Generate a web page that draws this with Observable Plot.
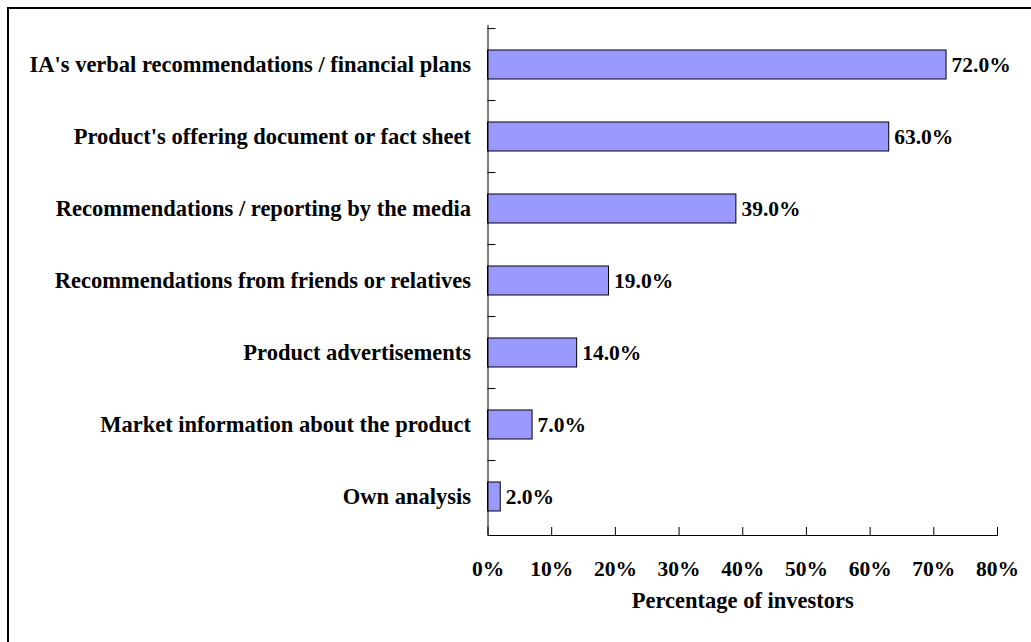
<!DOCTYPE html>
<html>
<head>
<meta charset="utf-8">
<script src="https://cdn.jsdelivr.net/npm/d3@7"></script>
<script src="https://cdn.jsdelivr.net/npm/@observablehq/plot@0.6"></script>
<style>
  html, body { margin: 0; padding: 0; background: #fff; }
  #wrap { position: relative; width: 1031px; height: 642px; overflow: hidden; }
  #border { position: absolute; left: 7px; top: 7px; width: 1100px; height: 700px;
            border-left: 2px solid #000; border-top: 2px solid #000; box-sizing: border-box; }
  #chart { position: absolute; left: 0; top: 0; }
</style>
</head>
<body>
<div id="wrap"><div id="border"></div><div id="chart"></div></div>
<script>
const categories = [
  "IA's verbal recommendations / financial plans",
  "Product's offering document or fact sheet",
  "Recommendations / reporting by the media",
  "Recommendations from friends or relatives",
  "Product advertisements",
  "Market information about the product",
  "Own analysis"
];
const values = [72, 63, 39, 19, 14, 7, 2];
const xTicks = [0, 10, 20, 30, 40, 50, 60, 70, 80];
const xTitle = "Percentage of investors";

const data = categories.map((c, i) => ({category: c, value: values[i]}));

const W = 1031, H = 642;
const mTop = 25, mBottom = 107, mLeft = 487.5, mRight = 34;
const plotH = H - mTop - mBottom;
const step = plotH / categories.length;
const fontText = 22.5, fontNum = 21.5;

const chart = Plot.plot({
  width: W,
  height: H,
  marginTop: mTop,
  marginBottom: mBottom,
  marginLeft: mLeft,
  marginRight: mRight,
  style: {fontFamily: "'Liberation Serif', 'Times New Roman', serif", fontWeight: "bold", fontSize: "21px", color: "#000", background: "transparent"},
  x: {domain: [0, 80], ticks: xTicks, label: null},
  y: {domain: categories, paddingInner: 0.6, paddingOuter: 0.3, label: null},
  marks: [
    Plot.barX(data, {y: "category", x: "value", fill: "#9999FF", stroke: "#000", strokeWidth: 1}),
    Plot.text(data, {y: "category", x: "value", text: d => d.value.toFixed(1) + "%", textAnchor: "start", dx: 5, fill: "#000", fontSize: fontNum}),
    Plot.axisY({tickSize: 0, tickPadding: 17, fill: "#000", fontSize: fontText}),
    Plot.axisX({ticks: xTicks, tickFormat: d => d + "%", tickSize: 0, tickPadding: 25, fill: "#000", label: null, fontSize: fontNum}),
    Plot.ruleY(categories, {y: d => d, x1: 0, x2: 0, insetRight: -8, dy: -step / 2, stroke: "#000"}),
    Plot.ruleX(xTicks, {x: d => d, insetTop: plotH - 8, stroke: "#000"}),
    Plot.ruleX([0], {stroke: "#000"}),
    Plot.frame({anchor: "bottom", stroke: "#000"}),
    Plot.text([xTitle], {frameAnchor: "bottom", dy: 72, fill: "#000", fontSize: fontText})
  ]
});
document.getElementById("chart").appendChild(chart);
</script>
</body>
</html>
